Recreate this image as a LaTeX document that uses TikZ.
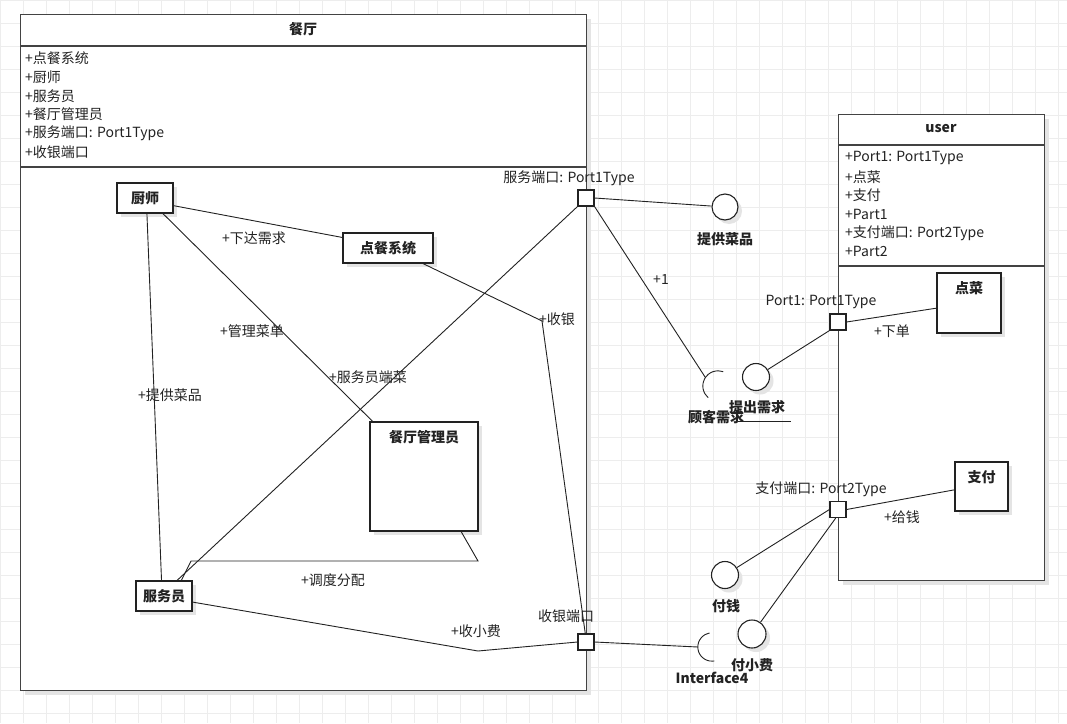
\documentclass[tikz,border=0pt]{standalone}
\usepackage{fontspec}
\setmainfont{Noto Sans CJK SC}
\usetikzlibrary{shadows}
\definecolor{gridc}{HTML}{EDEDED}
\definecolor{shadowc}{HTML}{E4E4E4}
\definecolor{ink}{HTML}{222222}
\begin{document}
\begin{tikzpicture}[x=1pt,y=-1pt,
  txt/.style={font=\fontsize{14}{16}\selectfont, inner sep=0pt, text=ink},
  btxt/.style={font=\fontsize{14}{16}\selectfont\bfseries, inner sep=0pt, text=ink},
  softshadow/.style={drop shadow={shadow xshift=4pt, shadow yshift=-4pt, fill=shadowc, opacity=1}},
  part/.style={draw=ink, line width=1.2pt, fill=white, inner sep=0pt, softshadow},
  frame/.style={draw=ink!85, line width=1.3pt, fill=white, inner sep=0pt, softshadow},
  portbox/.style={draw=ink, line width=1.1pt, fill=white, inner sep=0pt, minimum size=16pt},
  lolli/.style={circle, draw=ink, line width=1.1pt, fill=white, inner sep=0pt, softshadow},
  sockethole/.style={circle, inner sep=0pt},
  conn/.style={draw=ink, line width=0.9pt},
  divider/.style={draw=ink!85, line width=1.2pt}
]
\useasboundingbox (0,0) rectangle (1067,723);
\fill[white] (0,0) rectangle (1067,723);

% background grid
\foreach \gx in {0,23,...,1070} \draw[gridc, line width=0.6pt] (\gx,0) -- (\gx,723);
\foreach \gy in {0,23,...,730} \draw[gridc, line width=0.6pt] (0,\gy) -- (1067,\gy);

% ---------- class 餐厅 ----------
\node[frame, anchor=north west, minimum width=566pt, minimum height=676pt] (rest) at (20,14) {};
\draw[divider] (20,46) -- (586,46);
\draw[divider] (20,167) -- (586,167);
\node[btxt] (restTitle) at (303,29) {餐厅};
\node[txt, anchor=west] (ra1) at (25,58) {+点餐系统};
\node[txt, anchor=west] (ra2) at (25,77) {+厨师};
\node[txt, anchor=west] (ra3) at (25,96) {+服务员};
\node[txt, anchor=west] (ra4) at (25,114) {+餐厅管理员};
\node[txt, anchor=west] (ra5) at (25,133) {+服务端口: Port1Type};
\node[txt, anchor=west] (ra6) at (25,152) {+收银端口};

% ---------- class user ----------
\node[frame, anchor=north west, minimum width=206pt, minimum height=466pt] (user) at (838,114) {};
\draw[divider] (838,145) -- (1044,145);
\draw[divider] (838,266) -- (1044,266);
\node[btxt] (userTitle) at (941,129) {user};
\node[txt, anchor=west] (ua1) at (845,158) {+Port1: Port1Type};
\node[txt, anchor=west] (ua2) at (845,177) {+点菜};
\node[txt, anchor=west] (ua3) at (845,195) {+支付};
\node[txt, anchor=west] (ua4) at (845,214) {+Part1};
\node[txt, anchor=west] (ua5) at (845,233) {+支付端口: Port2Type};
\node[txt, anchor=west] (ua6) at (845,251) {+Part2};

% ---------- parts ----------
\node[part, minimum width=56pt, minimum height=30pt] (chef) at (145,198) {};
\node[btxt] (chefT) at (chef) {厨师};
\node[part, minimum width=90pt, minimum height=30pt] (order) at (388,248) {};
\node[btxt] (orderT) at (order) {点餐系统};
\node[part, minimum width=108pt, minimum height=109pt] (mgr) at (424,476.5) {};
\node[btxt] (mgrT) at (424,437) {餐厅管理员};
\node[part, minimum width=56pt, minimum height=30pt] (waiter) at (164,596) {};
\node[btxt] (waiterT) at (waiter) {服务员};
\node[part, minimum width=64pt, minimum height=60pt] (dish) at (969,303) {};
\node[btxt] (dishT) at (969,288) {点菜};
\node[part, minimum width=53pt, minimum height=49pt] (pay) at (981.5,486.5) {};
\node[btxt] (payT) at (981.5,477) {支付};

% ---------- ports ----------
\node[portbox] (sp) at (586,198) {};
\node[portbox] (cp) at (586,642) {};
\node[portbox] (p1) at (838,322) {};
\node[portbox] (pp) at (838,509.5) {};
\node[txt] (spT) at (569,178) {服务端口: Port1Type};
\node[txt] (cpT) at (566,616) {收银端口};
\node[txt] (p1T) at (821,302) {Port1: Port1Type};
\node[txt] (ppT) at (821,489) {支付端口: Port2Type};

% ---------- provided / required interfaces ----------
\node[lolli, minimum size=26pt] (supply) at (725,207) {};
\node[lolli, minimum size=27pt] (provide) at (756,377) {};
\node[lolli, minimum size=27pt] (money) at (725,575) {};
\node[lolli, minimum size=28pt] (tip) at (752,634) {};
\node[sockethole, minimum size=30pt] (need) at (718,386) {};
\node[sockethole, minimum size=28pt] (iface) at (712,647) {};
\draw[conn] plot[smooth] coordinates {(need.70) (need.90) (need.110) (need.130) (need.150) (need.170) (need.190) (need.210) (need.230)};
\draw[conn] plot[smooth] coordinates {(iface.100) (iface.120) (iface.140) (iface.160) (iface.180) (iface.200) (iface.220) (iface.240) (iface.260) (iface.280)};

\node[btxt] (supplyT) at (725,239) {提供菜品};
\node[btxt] (needT) at (716,417) {顾客需求};
\node[btxt] (provideT) at (757,407) {提出需求};
\draw[conn] (738,421) -- (791,421);
\node[btxt] (moneyT) at (726,606) {付钱};
\node[btxt] (tipT) at (752,665) {付小费};
\node[btxt] (ifaceT) at (712,678) {Interface4};

% ---------- connectors inside 餐厅 ----------
\draw[conn] (chef.-15) -- (order.167);
\draw[conn] (chef.-41) -- (mgr.133);
\draw[conn] (chef.-83) -- (waiter.99);
\draw[conn] (waiter.50) -- (sp.south west);
\draw[conn] (waiter.42) -- (191,561) -- (478,561) -- (mgr.-56);
\draw[conn] (order.-24) -- (542,321) -- (cp.95);
\draw[conn] (waiter.-12) -- (478,651) -- (cp.west);

\node[txt] (lblOrder) at (254,238) {+下达需求};
\node[txt] (lblMenu) at (252,331) {+管理菜单};
\node[txt] (lblDish) at (170,395) {+提供菜品};
\node[txt] (lblServe) at (368,377) {+服务员端菜};
\node[txt] (lblPlan) at (333,580) {+调度分配};
\node[txt] (lblTip) at (476,631) {+收小费};
\node[txt] (lblCash) at (557,319) {+收银};

% ---------- connectors outside ----------
\draw[conn] (sp.east) -- (supply);
\draw[conn] (sp.south east) -- (need.146);
\draw[conn] (provide) -- (p1.south west);
\draw[conn] (p1.east) -- (dish.189);
\draw[conn] (pp.east) -- (pay.187);
\draw[conn] (money) -- (pp.west);
\draw[conn] (tip) -- (pp.255);
\draw[conn] (cp.east) -- (iface.west);

\node[txt] (lblOne) at (661,280) {+1};
\node[txt] (lblPlace) at (892,331) {+下单};
\node[txt] (lblGive) at (902,517) {+给钱};
\end{tikzpicture}
\end{document}
